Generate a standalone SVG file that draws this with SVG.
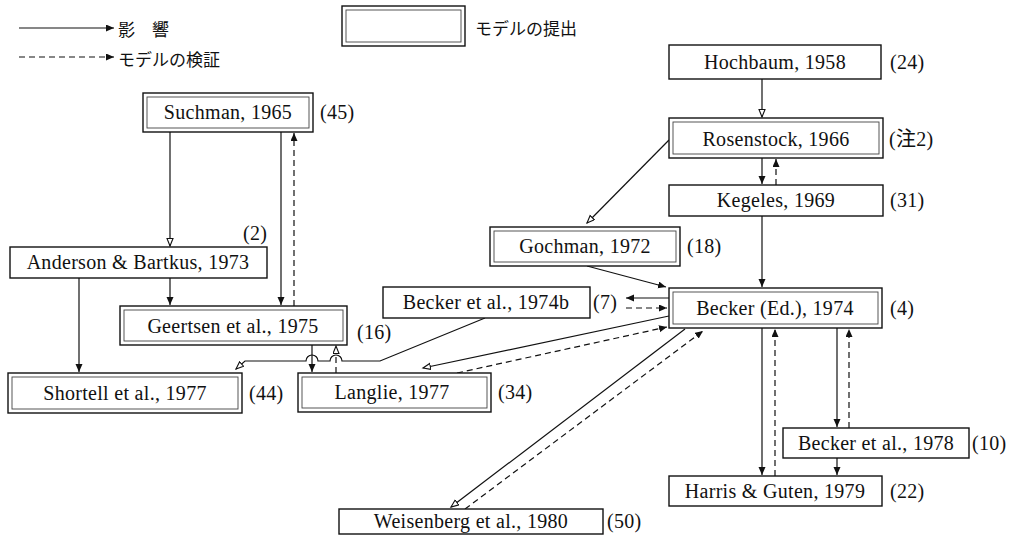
<svg xmlns="http://www.w3.org/2000/svg" width="1011" height="543" viewBox="0 0 1011 543">
<style>
text{font-family:"Liberation Serif","Noto Sans CJK JP",serif;font-size:20px;fill:#111;dominant-baseline:central;letter-spacing:0.3px}
.c{text-anchor:middle}
.jp{font-family:"Noto Sans CJK JP","Liberation Serif",sans-serif;font-size:17px;letter-spacing:0}
.box{fill:#fff;stroke:#111;stroke-width:1.4}
.in{fill:none;stroke:#444;stroke-width:0.9}
.s{fill:none;stroke:#111;stroke-width:1.2}
.d{fill:none;stroke:#111;stroke-width:1.2;stroke-dasharray:6 4}
.s,.d{marker-end:url(#af)}
.h{marker-end:url(#ah)}
</style>
<defs>
<marker id="af" markerUnits="userSpaceOnUse" markerWidth="9" markerHeight="8" refX="8" refY="3.5" orient="auto"><path d="M0,0 L8,3.5 L0,7 z" fill="#111"/></marker>
<marker id="ah" markerUnits="userSpaceOnUse" markerWidth="10" markerHeight="9" refX="8" refY="3.5" orient="auto"><path d="M0.5,0.5 L8,3.5 L0.5,6.5 z" fill="#fff" stroke="#111" stroke-width="1.1"/></marker>
</defs>

<g id="legend">
<path class="s" d="M19,28 H114"/>
<text class="jp" x="118" y="28">影　響</text>
<path class="d" d="M19,57 H114"/>
<text class="jp" x="118" y="58">モデルの検証</text>
<rect class="box" x="342" y="6" width="123" height="40"/>
<rect class="in" x="346" y="10" width="115" height="32"/>
<text class="jp" x="475" y="27">モデルの提出</text>
</g>

<g id="connectors">
<path class="s h" d="M762,79 V117"/>
<path class="s" d="M762,158 V184"/>
<path class="d" d="M776,185 V159"/>
<path class="s h" d="M669,140 L587,223"/>
<path class="s" d="M762,216 V287"/>
<path class="s" d="M587,266 L666,287"/>
<path class="s" d="M669,298 H626"/>
<path class="d" d="M626,308 H667"/>
<path class="s h" d="M669,316 L423,368"/>
<path class="d" d="M457,373 L667,327"/>
<path class="s h" d="M685,329 L451,507"/>
<path class="d" d="M465,509 L703,331"/>
<path class="s" d="M762,328 V475"/>
<path class="d" d="M775,476 V329"/>
<path class="s" d="M837,328 V427"/>
<path class="d" d="M849,428 V329"/>
<path class="s" d="M837,458 V475"/>
<path class="s h" d="M170,132 V246"/>
<path class="s" d="M281,132 V305"/>
<path class="d" d="M294,306 V133"/>
<path class="s" d="M170,278 V305"/>
<path class="s" d="M79,278 V372"/>
<path class="s" d="M312,345 V372"/>
<path class="d h" d="M336,373 V346"/>
<path class="s h" d="M485,318 L380,361 H342 A6,6 0 0 0 330,361 H318 A6,6 0 0 0 306,361 H245 L236,369"/>
</g>

<g id="suchman"><rect class="box" x="143" y="93" width="170" height="39"/><rect class="in" x="147" y="97" width="162" height="31"/><text class="c" x="228" y="112">Suchman, 1965</text><text x="320" y="112">(45)</text></g>
<g id="anderson"><rect class="box" x="10" y="247" width="257" height="31"/><text class="c" x="138" y="262">Anderson &amp; Bartkus, 1973</text><text x="243" y="233">(2)</text></g>
<g id="geertsen"><rect class="box" x="120" y="306" width="227" height="39"/><rect class="in" x="124" y="310" width="219" height="31"/><text class="c" x="233" y="326">Geertsen et al., 1975</text><text x="357" y="332">(16)</text></g>
<g id="shortell"><rect class="box" x="8" y="373" width="234" height="40"/><rect class="in" x="12" y="377" width="226" height="32"/><text class="c" x="125" y="393">Shortell et al., 1977</text><text x="249" y="393">(44)</text></g>
<g id="langlie"><rect class="box" x="298" y="373" width="193" height="39"/><rect class="in" x="302" y="377" width="185" height="31"/><text class="c" x="392" y="392">Langlie, 1977</text><text x="498" y="392">(34)</text></g>
<g id="becker1974b"><rect class="box" x="383" y="287" width="207" height="31"/><text class="c" x="486" y="302">Becker et al., 1974b</text><text x="593" y="302">(7)</text></g>
<g id="gochman"><rect class="box" x="490" y="227" width="190" height="39"/><rect class="in" x="494" y="231" width="182" height="31"/><text class="c" x="585" y="246">Gochman, 1972</text><text x="687" y="246">(18)</text></g>
<g id="hochbaum"><rect class="box" x="669" y="45" width="212" height="34"/><text class="c" x="775" y="62">Hochbaum, 1958</text><text x="890" y="62">(24)</text></g>
<g id="rosenstock"><rect class="box" x="669" y="118" width="214" height="40"/><rect class="in" x="673" y="122" width="206" height="32"/><text class="c" x="776" y="139">Rosenstock, 1966</text><text x="889" y="139">(注2)</text></g>
<g id="kegeles"><rect class="box" x="669" y="185" width="214" height="31"/><text class="c" x="776" y="200">Kegeles, 1969</text><text x="890" y="200">(31)</text></g>
<g id="beckered"><rect class="box" x="669" y="288" width="213" height="40"/><rect class="in" x="673" y="292" width="205" height="32"/><text class="c" x="775" y="308">Becker (Ed.), 1974</text><text x="890" y="308">(4)</text></g>
<g id="becker1978"><rect class="box" x="783" y="428" width="186" height="30"/><text class="c" x="876" y="443">Becker et al., 1978</text><text x="972" y="443">(10)</text></g>
<g id="harris"><rect class="box" x="669" y="476" width="213" height="30"/><text class="c" x="775" y="491">Harris &amp; Guten, 1979</text><text x="890" y="491">(22)</text></g>
<g id="weisenberg"><rect class="box" x="339" y="509" width="264" height="25"/><text class="c" x="471" y="521">Weisenberg et al., 1980</text><text x="607" y="521">(50)</text></g>
</svg>
